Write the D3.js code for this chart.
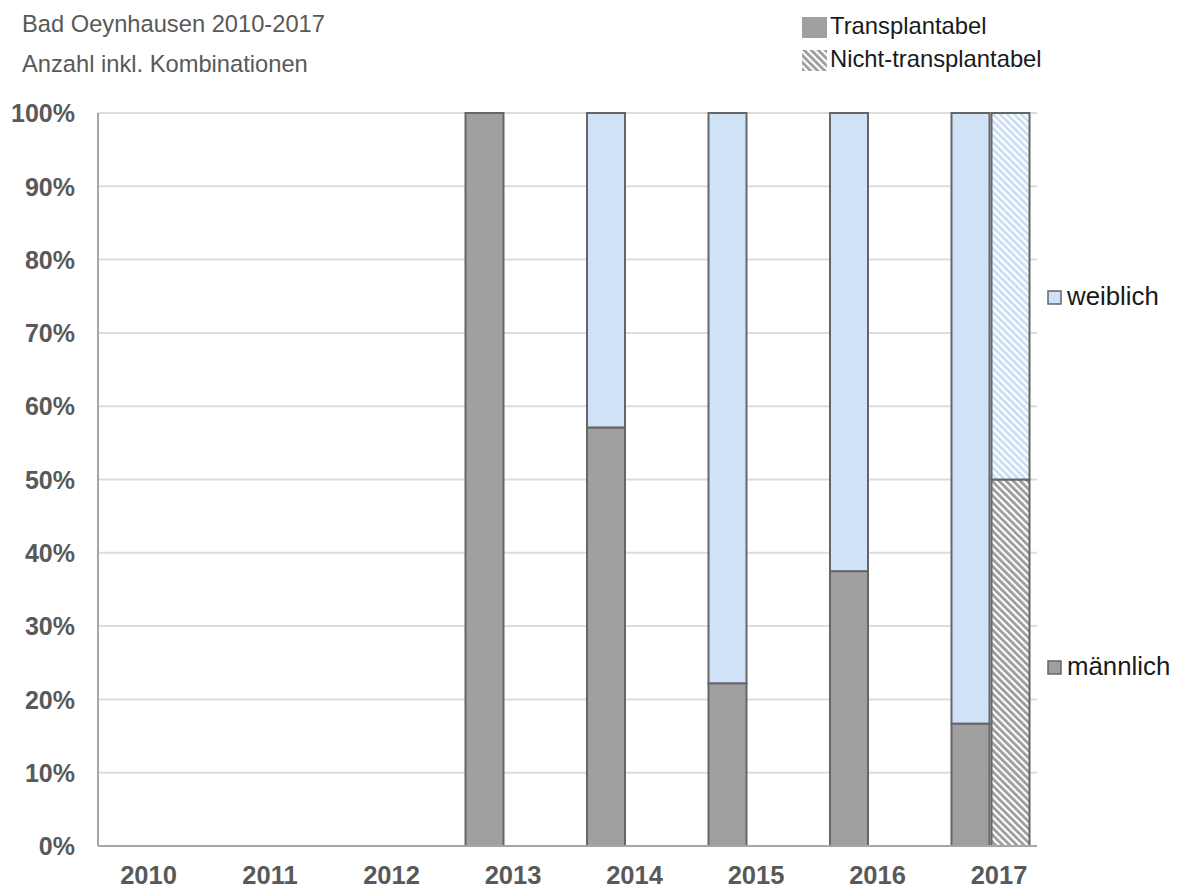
<!DOCTYPE html>
<html>
<head>
<meta charset="utf-8">
<script src="https://cdn.jsdelivr.net/npm/d3@7"></script>
<style>
  body { margin: 0; background: #fff; }
  svg text { font-family: "Liberation Sans", Arial, sans-serif; }
</style>
</head>
<body>
<div id="chart"></div>
<script>
// data (percent per year)
var years = ["2010", "2011", "2012", "2013", "2014", "2015", "2016", "2017"];
var transMale = [0, 0, 0, 100, 57.1, 22.2, 37.5, 16.7];
var transFemale = [0, 0, 0, 0, 42.9, 77.8, 62.5, 83.3];
var nichtMale = [0, 0, 0, 0, 0, 0, 0, 50];
var nichtFemale = [0, 0, 0, 0, 0, 0, 0, 50];
var yTicks = [0, 10, 20, 30, 40, 50, 60, 70, 80, 90, 100];

var W = 1183, H = 891;
// plot edges (note: "top" is reserved on window, so use other names)
var plotLeft = 98, plotRight = 1037, plotTop = 113, plotBottom = 846;
var grey = "#a0a0a0", blue = "#cfe2f7", edge = "#666666";

var svg = d3.select("#chart").append("svg")
  .attr("width", W).attr("height", H);

// hatch patterns for the non-transplantable bars
var defs = svg.append("defs");
function hatch(id, color) {
  var p = defs.append("pattern")
    .attr("id", id)
    .attr("patternUnits", "userSpaceOnUse")
    .attr("width", 5).attr("height", 5)
    .attr("patternTransform", "rotate(-45)");
  p.append("rect").attr("width", 5).attr("height", 5).attr("fill", "#fff");
  p.append("rect").attr("width", 2.8).attr("height", 5).attr("fill", color);
}
hatch("hatchGrey", "#9c9c9c");
hatch("hatchBlue", "#c9def5");

var x = d3.scaleBand()
  .domain(years)
  .range([plotLeft, plotLeft + years.length * 121.5])
  .padding(0);

var y = d3.scaleLinear()
  .domain([0, 100])
  .range([plotBottom, plotTop]);

// gridlines
svg.append("g")
  .selectAll("line")
  .data(yTicks.filter(function(d) { return d > 0; }))
  .enter().append("line")
    .attr("x1", plotLeft).attr("x2", plotRight)
    .attr("y1", function(d) { return y(d); })
    .attr("y2", function(d) { return y(d); })
    .style("stroke", "#dcdcdc")
    .style("stroke-width", 2);

// y tick labels
svg.append("g")
  .selectAll("text")
  .data(yTicks)
  .enter().append("text")
    .attr("x", 75)
    .attr("y", function(d) { return y(d); })
    .attr("dy", "0.37em")
    .attr("text-anchor", "end")
    .style("font-size", "25px")
    .style("font-weight", "bold")
    .style("fill", "#595959")
    .text(function(d) { return d + "%"; });

// x labels
svg.append("g")
  .selectAll("text")
  .data(years)
  .enter().append("text")
    .attr("x", function(d) { return x(d) + 50.5; })
    .attr("y", 884)
    .attr("text-anchor", "middle")
    .style("font-size", "25.5px")
    .style("font-weight", "bold")
    .style("fill", "#595959")
    .text(function(d) { return d; });

// bars: two stacked bars per year
var barW = 38;
function drawStack(male, female, offset, fillM, fillF) {
  var rows = years.map(function(yr, i) {
    return { year: yr, m: male[i], f: female[i] };
  });
  var g = svg.append("g");
  g.selectAll("rect.m")
    .data(rows.filter(function(d) { return d.m > 0; }))
    .enter().append("rect")
      .attr("x", function(d) { return x(d.year) + offset; })
      .attr("y", function(d) { return y(d.m); })
      .attr("width", barW)
      .attr("height", function(d) { return y(0) - y(d.m); })
      .style("fill", fillM)
      .style("stroke", edge)
      .style("stroke-width", 2);
  g.selectAll("rect.f")
    .data(rows.filter(function(d) { return d.f > 0; }))
    .enter().append("rect")
      .attr("x", function(d) { return x(d.year) + offset; })
      .attr("y", function(d) { return y(d.m + d.f); })
      .attr("width", barW)
      .attr("height", function(d) { return y(d.m) - y(d.m + d.f); })
      .style("fill", fillF)
      .style("stroke", edge)
      .style("stroke-width", 2);
}
drawStack(transMale, transFemale, 3, grey, blue);
drawStack(nichtMale, nichtFemale, 43, "url(#hatchGrey)", "url(#hatchBlue)");

// axis lines
svg.append("line")
  .attr("x1", plotLeft).attr("x2", plotLeft)
  .attr("y1", plotTop).attr("y2", plotBottom)
  .style("stroke", "#a6a6a6").style("stroke-width", 2);
svg.append("line")
  .attr("x1", plotLeft).attr("x2", plotRight)
  .attr("y1", plotBottom).attr("y2", plotBottom)
  .style("stroke", "#a6a6a6").style("stroke-width", 2);

// subtitle lines
svg.append("text")
  .attr("x", 22).attr("y", 32)
  .style("font-size", "23.7px")
  .style("fill", "#595959")
  .text("Bad Oeynhausen 2010-2017");
svg.append("text")
  .attr("x", 22).attr("y", 72)
  .style("font-size", "23.7px")
  .style("fill", "#595959")
  .text("Anzahl inkl. Kombinationen");

// top legend
var topLegend = [
  { label: "Transplantabel", fill: grey, y: 17 },
  { label: "Nicht-transplantabel", fill: "url(#hatchGrey)", y: 50 }
];
var tl = svg.append("g")
  .selectAll("g")
  .data(topLegend)
  .enter().append("g")
    .attr("transform", function(d) { return "translate(802," + d.y + ")"; });
tl.append("rect")
  .attr("width", 25).attr("height", 21)
  .style("fill", function(d) { return d.fill; });
tl.append("text")
  .attr("x", 28).attr("y", 17)
  .style("font-size", "23.8px")
  .style("fill", "#1a1a1a")
  .text(function(d) { return d.label; });

// side legend
var sideLegend = [
  { label: "weiblich", fill: blue, y: 291 },
  { label: "männlich", fill: grey, y: 661 }
];
var sl = svg.append("g")
  .selectAll("g")
  .data(sideLegend)
  .enter().append("g")
    .attr("transform", function(d) { return "translate(1048," + d.y + ")"; });
sl.append("rect")
  .attr("width", 13).attr("height", 13)
  .style("fill", function(d) { return d.fill; })
  .style("stroke", edge)
  .style("stroke-width", 1.5);
sl.append("text")
  .attr("x", 19).attr("y", 14)
  .style("font-size", "25.8px")
  .style("fill", "#1a1a1a")
  .text(function(d) { return d.label; });
</script>
</body>
</html>
